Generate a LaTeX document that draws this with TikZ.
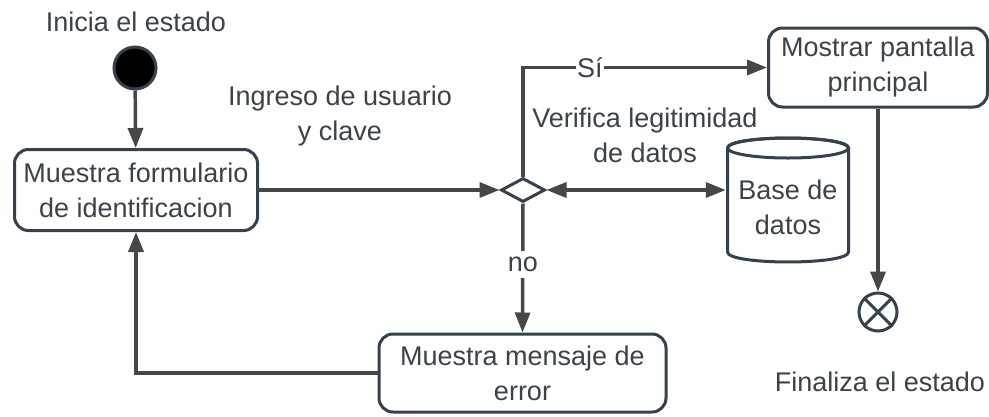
\documentclass[tikz,border=0pt]{standalone}
\usepackage{fontspec}
\setmainfont{Liberation Sans}
\usetikzlibrary{arrows.meta,shapes.geometric}
\definecolor{txt}{HTML}{3B424A}
\definecolor{bord}{HTML}{37414B}
\definecolor{conncol}{HTML}{474747}
\begin{document}
\begin{tikzpicture}[x=1pt,y=-1pt,
  lbl/.style={font=\fontsize{27}{35}\selectfont, text=txt, align=center, inner sep=0pt},
  statebox/.style={draw=bord, line width=3pt, rounded corners=14pt, fill=white, lbl},
  conn/.style={draw=conncol, line width=3.5pt, -{Triangle[length=20pt,width=15pt]}},
  tag/.style={lbl, fill=white, inner xsep=1pt, inner ysep=6pt},
]
\useasboundingbox (0,0) rectangle (989,416);

% labels
\node[lbl] (ini) at (136,22) {Inicia el estado};
\node[lbl] (ingreso) at (340,116) {Ingreso de usuario\\y clave};
\node[lbl] (verif) at (645,135) {Verifica legitimidad\\de datos};
\node[lbl] (fin) at (880,382) {Finaliza el estado};

% start
\node[circle, fill=black, draw=bord, line width=3pt, minimum size=42pt, inner sep=0pt] (start) at (135,68) {};

% states
\node[statebox, minimum width=243pt, minimum height=81pt] (form) at (136,190) {Muestra formulario\\de identificacion};
\node[statebox, minimum width=219pt, minimum height=79pt] (main) at (878,67.5) {Mostrar pantalla\\principal};
\node[statebox, minimum width=287pt, minimum height=78pt] (err) at (522.5,373) {Muestra mensaje de\\error};

% decision
\node[diamond, draw=bord, line width=3pt, fill=white, minimum width=44pt, minimum height=24pt, inner sep=0pt] (dec) at (523,190) {};

% database cylinder
\draw[draw=bord, line width=3pt, fill=white]
  (727.5,148) -- (727.5,252) .. controls (727.5,265.3) and (848.5,265.3) .. (848.5,252)
  -- (848.5,148) .. controls (848.5,134.7) and (727.5,134.7) .. (727.5,148) -- cycle;
\draw[draw=bord, line width=3pt] (788,148) ellipse [x radius=60.5, y radius=10];
\node[lbl, minimum width=124pt, minimum height=40pt] (db) at (788,207.5) {Base de\\datos};

% end
\node[circle, draw=bord, line width=3pt, fill=white, minimum size=38pt, inner sep=0pt] (end) at (878,312) {};
\draw[draw=bord, line width=3pt] (end.north west) -- (end.south east) (end.north east) -- (end.south west);

% connectors
\draw[conn] (start) -- (form);
\draw[conn] (form) -- (dec);
\draw[conn] (dec.north) |- node[tag, pos=0.637] {Sí} (main.west);
\draw[conn, {Triangle[length=20pt,width=15pt]}-{Triangle[length=20pt,width=15pt]}] (dec.east) -- (db.west |- dec.east);
\draw[conn] (dec.south) -- node[tag, pos=0.475] {no} (err.north);
\draw[conn] (err.west) -| (form.south);
\draw[conn] (main.south) -- (end.north);
\end{tikzpicture}
\end{document}
